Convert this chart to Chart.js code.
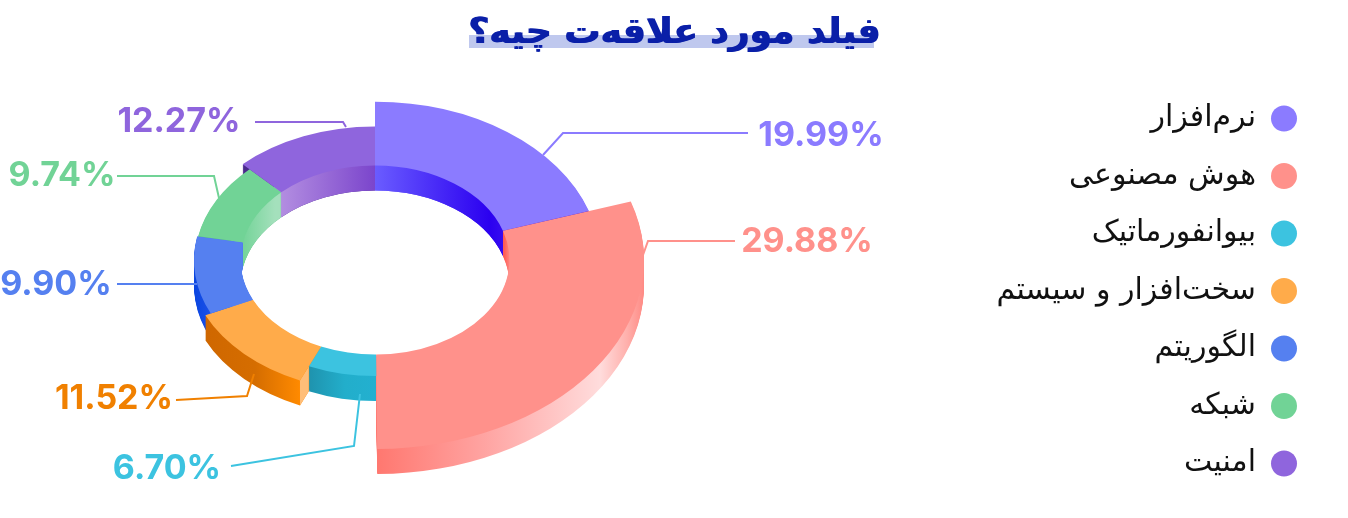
<!DOCTYPE html>
<html><head><meta charset="utf-8">
<style>html,body{margin:0;padding:0;background:#fff;overflow:hidden}canvas{display:block}</style>
<script src="https://cdn.jsdelivr.net/npm/chart.js@4/dist/chart.umd.js"></script>
</head><body><canvas id="c" width="1348" height="518"></canvas>
<script>
const titleText = 'فیلد مورد علاقه‌ت چیه؟';
const categories = ['نرم‌افزار','هوش مصنوعی','بیوانفورماتیک','سخت‌افزار و سیستم','الگوریتم','شبکه','امنیت'];
const values = [19.99,29.88,6.70,11.52,9.90,9.74,12.27];
const faceColors = ['#8b7bff','#ff918b','#3cc3e0','#ffab4a','#5580f0','#71d396','#8f65dd'];
const labelColors = ['#8b7bff','#ff918b','#3cc3e0','#f08000','#5580f0','#71d396','#8f65dd'];
const ringRadii = [225,269,165,187,181,180,190];
const HOLE = 134.5, SQUASH = 0.703, DEPTH = 25, CX = 375, CY = 260;
const paintOrder = [6,0,5,4,3,2,1];
const outerWalls = [
 [[0,'#6a5cff'],[130,'#2b00f0']],
 [[3,'#ff7870'],[110,'#ffa4a2'],[225,'#ffdcdc'],[252,'#ffb0ac'],[269,'#ff8a84']],
 [[-66,'#1f93ae'],[-30,'#22aecb'],[3,'#23b0d0']],
 [[-170,'#cf6700'],[-120,'#d56d00'],[-75,'#ff8a00']],
 [[-181,'#0a45e0'],[-165,'#1a50e8']],
 [[-180,'#4fb87a'],[-120,'#4fb87a']],
 [[-135,'#4a2a8c'],[0,'#4a2a8c']]
];
const innerWalls = [
 [[0,'#6a5cff'],[115,'#2b00f0'],[133,'#3a10f0']],
 [[125,'#ff3a30'],[135,'#ff8a84']],
 null,null,
 [[-134,'#5580f0'],[-120,'#5580f0']],
 [[-134,'#71d396'],[-100,'#a4e0bc']],
 [[-100,'#b692e2'],[0,'#7b45cc']]
];
const labelLayout = [
 {x:821,y:136,path:[[748,133],[563,133],[543,155]]},
 {x:807,y:242,path:[[735,241],[648,241],[643,255]]},
 {x:167,y:469,path:[[231,466],[354,446],[360,394]]},
 {x:114,y:399,path:[[176,400],[247,396],[254,374]]},
 {x:56,y:285,path:[[117,284],[197,284]]},
 {x:62,y:176,path:[[117,176],[214,176],[219,198]]},
 {x:179,y:122,path:[[255,122],[343,122],[346,127]]}
];
function wallGrad(ctx, arc, stops){
  const x0=stops[0][0], x1=stops[stops.length-1][0];
  const g=ctx.createLinearGradient(arc.x+x0,0,arc.x+x1,0);
  stops.forEach(s=>g.addColorStop((s[0]-x0)/(x1-x0),s[1]));
  return g;
}
function place(ctx, arc, d){
  ctx.translate(CX,CY+d); ctx.scale(1,SQUASH); ctx.translate(-arc.x,-arc.y);
}
function extrude(ctx, arc, fill, patch){
  const ghost=Object.create(arc);
  Object.assign(ghost,patch||{});
  ghost.options=Object.assign({},arc.options,{backgroundColor:fill,borderWidth:0});
  for(let d=DEPTH;d>=1;d--){
    ctx.save(); place(ctx,arc,d); ghost.draw(ctx); ctx.restore();
  }
}
const threeD={
  id:'threeD',
  afterDatasetsUpdate(chart){
    chart.getDatasetMeta(0).data.forEach((a,i)=>{a.outerRadius=ringRadii[i];a.innerRadius=HOLE;});
  },
  afterLayout(chart){
    const lg=chart.legend, c=chart.ctx;
    const dx=1297-(lg.right-lg.options.labels.padding), dy=291-(lg.top+lg.bottom)/2;
    lg.left+=dx; lg.right+=dx; lg.top+=dy; lg.bottom+=dy;
    const t=chart.titleBlock;
    if(!t.$bold){
      const d=t.draw.bind(t);
      t.draw=function(){c.save();c.shadowColor='#0a1fa8';c.shadowOffsetX=1.3;c.shadowOffsetY=0.5;c.shadowBlur=0;d();c.restore();};
      t.$bold=true;
    }
  },
  beforeDraw(chart){
    const c=chart.ctx; c.save(); c.fillStyle='#bfc8ee'; c.fillRect(469,35,405,13); c.restore();
  },
  beforeDatasetsDraw(chart){
    const c=chart.ctx, arcs=chart.getDatasetMeta(0).data;
    paintOrder.forEach(i=>{
      const a=arcs[i];
      extrude(c,a,wallGrad(c,a,outerWalls[i]));
      if(innerWalls[i]){
        let s=a.startAngle, e=a.endAngle;
        if(s<0) e=Math.min(e,0);
        extrude(c,a,wallGrad(c,a,innerWalls[i]),{startAngle:s,endAngle:e,circumference:e-s,outerRadius:HOLE+12});
      }
      if(i===3){
        const pt=(r,dd)=>[CX+r*Math.cos(a.startAngle),CY+r*Math.sin(a.startAngle)*SQUASH+dd];
        const pts=[pt(ringRadii[3],0),pt(ringRadii[2],0),pt(ringRadii[2],DEPTH),pt(ringRadii[3],DEPTH)];
        c.save(); c.fillStyle='#ffbe78'; c.beginPath();
        pts.forEach((p,k)=>k?c.lineTo(p[0],p[1]):c.moveTo(p[0],p[1])); c.closePath(); c.fill(); c.restore();
      }
    });
    c.save(); place(c,arcs[0],0);
  },
  afterDatasetsDraw(chart){
    const c=chart.ctx; c.restore();
    c.save(); c.direction='ltr'; c.lineWidth=2; c.lineJoin='miter';
    c.textAlign='center'; c.textBaseline='middle'; c.font='700 34px Inter';
    labelLayout.forEach((l,i)=>{
      c.strokeStyle=labelColors[i]; c.beginPath();
      l.path.forEach((p,k)=>k?c.lineTo(p[0],p[1]):c.moveTo(p[0],p[1])); c.stroke();
      c.fillStyle=labelColors[i];
      c.fillText(values[i].toFixed(2)+'%',l.x,l.y);
    });
    c.restore();
  }
};
new Chart(document.getElementById('c'),{
  type:'doughnut',
  data:{labels:categories,datasets:[{data:values,backgroundColor:faceColors,borderWidth:0,clip:false}]},
  options:{
    responsive:false,animation:false,
    radius:269,cutout:'50%',
    plugins:{
      tooltip:{enabled:false},
      title:{display:true,text:titleText,color:'#0a1fa8',font:{family:'DejaVu Sans',size:36,weight:'700'},padding:{top:12,bottom:10}},
      legend:{position:'right',rtl:true,onClick:null,
        labels:{usePointStyle:true,pointStyle:'circle',pointStyleWidth:26,boxHeight:18.4,padding:27.5,color:'#111',
          font:{family:'DejaVu Sans',size:30}}}
    }
  },
  plugins:[threeD]
});
</script>
</body></html>
